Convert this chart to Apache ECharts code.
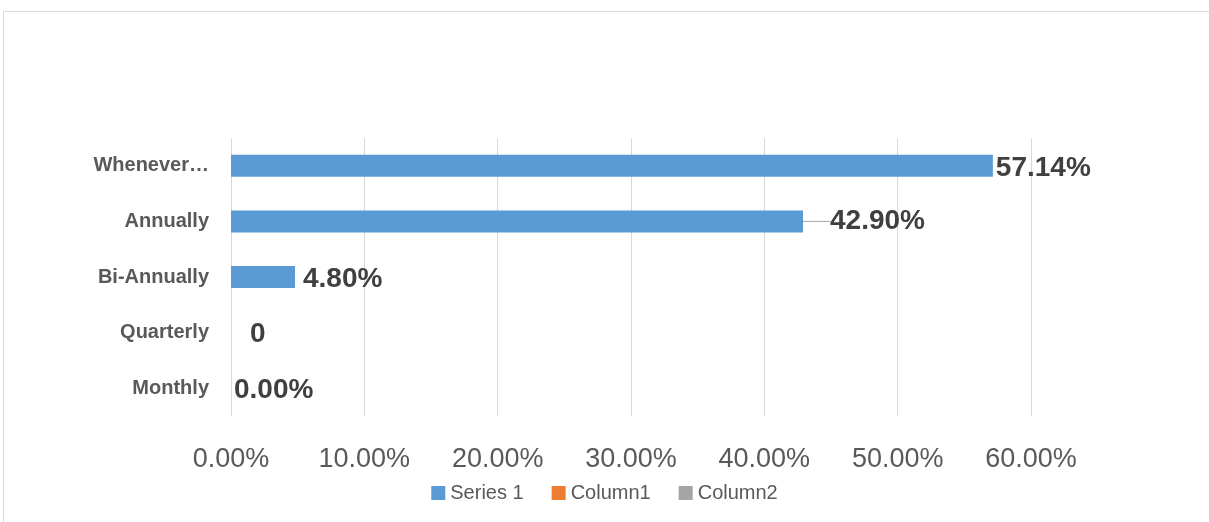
<!DOCTYPE html>
<html>
<head>
<meta charset="utf-8">
<script src="https://cdn.jsdelivr.net/npm/echarts@6/dist/echarts.min.js"></script>
<style>
  html, body { margin: 0; padding: 0; background: #fff; }
  #frame {
    position: absolute; left: 3px; top: 11px; width: 1300px; height: 600px;
    border-left: 1px solid #d9d9d9; border-top: 1px solid #d9d9d9;
  }
  #chart { position: absolute; left: 0; top: 0; width: 1209px; height: 522px; }
</style>
</head>
<body>
<div id="frame"></div>
<div id="chart"></div>
<script>
// categories listed bottom to top, as the axis draws them
var categories = ["Monthly", "Quarterly", "Bi-Annually", "Annually", "Whenever…"];
var series1 = [0, 0, 4.8, 42.9, 57.14];
var labelTexts = ["0.00%", "0", "4.80%", "42.90%", "57.14%"];
// how far each data label sits away from its default spot
var labelShift = [-2, 14, 3, 22, -2];
var tickValues = [0, 10, 20, 30, 40, 50, 60];

var myChart = echarts.init(document.getElementById("chart"));

var barData = series1.map(function (v, i) {
  return {
    value: v,
    labelLine: i === 3
      ? { show: true, lineStyle: { color: "#a6a6a6", width: 1 } }
      : { show: false }
  };
});

var option = {
  animation: false,
  grid: { left: 231, right: 178, top: 138, bottom: 106 },
  legend: {
    top: 478,
    left: "center",
    icon: "rect",
    itemWidth: 14,
    itemHeight: 14,
    itemGap: 28,
    textStyle: { fontFamily: "Liberation Sans", fontSize: 20, color: "#595959" },
    data: ["Series 1", "Column1", "Column2"]
  },
  xAxis: {
    type: "value",
    min: 0,
    max: 60,
    interval: 10,
    axisLine: { show: false },
    axisTick: { show: false },
    splitLine: { lineStyle: { color: "#d9d9d9", width: 1 } },
    axisLabel: {
      margin: 30,
      fontFamily: "Liberation Sans",
      fontSize: 27,
      color: "#595959",
      formatter: function (v) {
        return tickValues.indexOf(v) >= 0 ? v.toFixed(2) + "%" : "";
      }
    }
  },
  yAxis: {
    type: "category",
    data: categories,
    axisLine: { show: false },
    axisTick: { show: false },
    axisLabel: {
      margin: 22,
      fontFamily: "Liberation Sans",
      fontWeight: "bold",
      fontSize: 20,
      color: "#595959"
    }
  },
  series: [
    {
      name: "Series 1",
      type: "bar",
      barWidth: 22,
      barGap: "0%",
      itemStyle: { color: "#5b9bd5" },
      label: {
        show: true,
        position: "right",
        distance: 5,
        fontFamily: "Liberation Sans",
        fontWeight: "bold",
        fontSize: 28,
        color: "#404040",
        formatter: function (p) { return labelTexts[p.dataIndex]; }
      },
      labelLayout: function (p) {
        return { dx: labelShift[p.dataIndex], dy: p.dataIndex === 3 ? 0 : 2 };
      },
      data: barData
    },
    { name: "Column1", type: "bar", itemStyle: { color: "#ed7d31" }, data: [] },
    { name: "Column2", type: "bar", itemStyle: { color: "#a5a5a5" }, data: [] }
  ]
};

myChart.setOption(option);
</script>
</body>
</html>
